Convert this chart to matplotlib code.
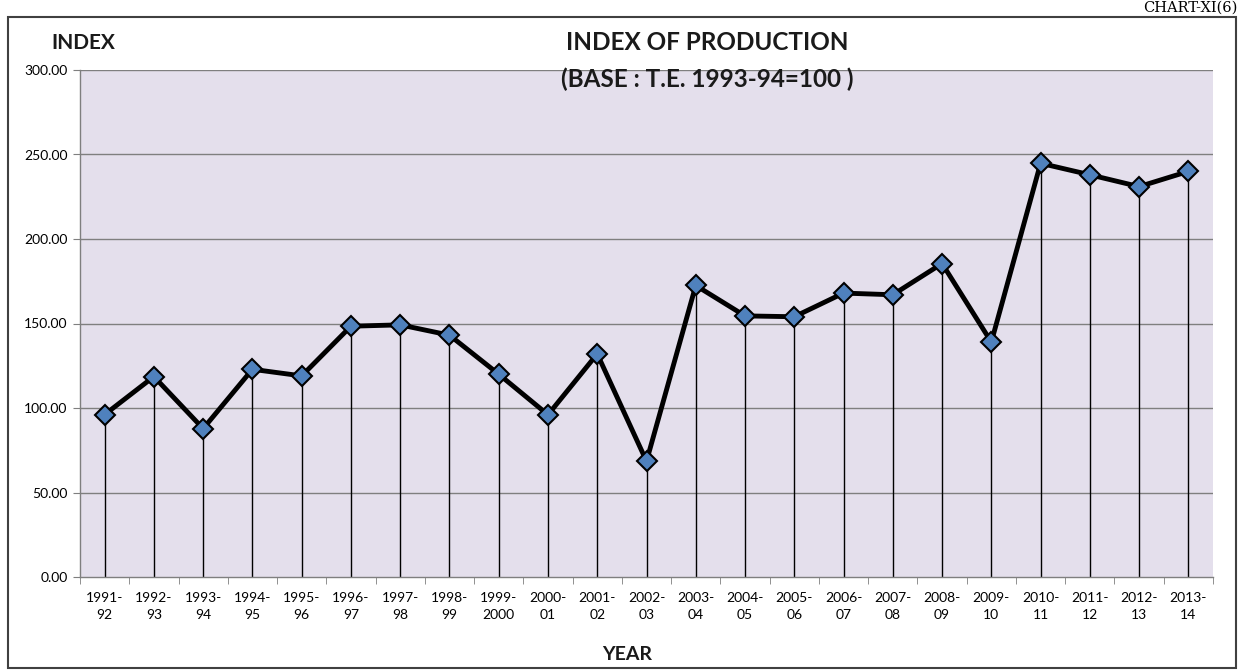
import matplotlib.pyplot as plt
from matplotlib.patches import Rectangle
import numpy as np

years = ["1991-\n92", "1992-\n93", "1993-\n94", "1994-\n95", "1995-\n96", "1996-\n97",
         "1997-\n98", "1998-\n99", "1999-\n2000", "2000-\n01", "2001-\n02", "2002-\n03",
         "2003-\n04", "2004-\n05", "2005-\n06", "2006-\n07", "2007-\n08", "2008-\n09",
         "2009-\n10", "2010-\n11", "2011-\n12", "2012-\n13", "2013-\n14"]
index_values = [96.1, 118.6, 87.8, 122.9, 119.0, 148.4, 149.2, 143.1, 120.0, 96.0,
                132.0, 68.5, 172.5, 154.5, 154.0, 168.0, 167.0, 185.5, 139.0, 244.8,
                238.0, 231.0, 240.0]
y_ticks = [0, 50, 100, 150, 200, 250, 300]

plt.rcParams['font.family'] = ['Lato', 'DejaVu Sans']

fig = plt.figure(figsize=(12.41, 6.71), dpi=100)
ax = fig.add_axes([80 / 1241, 1 - 577 / 671, (1213 - 80) / 1241, (577 - 70) / 671])
ax.set_facecolor('#e4dfec')

x = np.arange(len(years))
ax.set_xlim(-0.5, len(years) - 0.5)
ax.set_ylim(0, 300)

# gridlines
for t in y_ticks[1:]:
    ax.axhline(t, color='#7f7f7f', lw=1.0, zorder=1)

# drop lines
ax.vlines(x, 0, index_values, color='black', lw=1.0, zorder=2)
ax.plot(x, index_values, color='black', lw=3.5, zorder=3,
        marker='D', markersize=10, markerfacecolor='#4f81bd',
        markeredgecolor='black', markeredgewidth=1.5)

ax.set_yticks(y_ticks)
ax.set_yticklabels([f"{t:.2f}" for t in y_ticks], fontsize=10)
ax.set_xticks(x)
ax.set_xticklabels(years, fontsize=10, linespacing=1.5)
ax.tick_params(axis='x', length=0, pad=11)
ax.set_xticks(np.arange(-0.5, len(years)), minor=True)
ax.tick_params(axis='x', which='minor', length=5, color='#7f7f7f')
ax.tick_params(axis='y', length=5, color='#7f7f7f', pad=4)

for side in ['top', 'right']:
    ax.spines[side].set_visible(False)
for side in ['left', 'bottom']:
    ax.spines[side].set_color('#7f7f7f')
    ax.spines[side].set_linewidth(1.0)

fig.text(707 / 1241, 1 - 43 / 671, "INDEX OF PRODUCTION", ha='center', va='center',
         fontsize=17.5, fontweight='bold', color='#1a1a1a')
fig.text(707 / 1241, 1 - 79 / 671, "(BASE : T.E. 1993-94=100 )", ha='center', va='center',
         fontsize=17.5, fontweight='bold', color='#1a1a1a')
fig.text(83 / 1241, 1 - 43 / 671, "INDEX", ha='center', va='center',
         fontsize=15, fontweight='bold', color='#1a1a1a')
fig.text(627 / 1241, 1 - 654 / 671, "YEAR", ha='center', va='center',
         fontsize=14, fontweight='bold', color='#1a1a1a')
fig.text(1238 / 1241, 1 - 1 / 671, "CHART-XI(6)", ha='right', va='top',
         fontsize=10.5, family='DejaVu Serif', color='black')

fig.patches.append(Rectangle((8 / 1241, 1 - 668 / 671), (1236 - 8) / 1241, (668 - 17) / 671,
                             transform=fig.transFigure, fill=False,
                             edgecolor='#404040', lw=1.5))

fig.savefig('out.png', dpi=100)
